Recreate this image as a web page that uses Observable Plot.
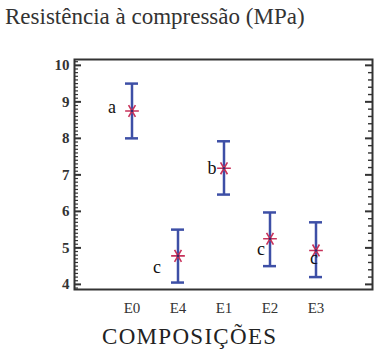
<!DOCTYPE html>
<html>
<head>
<meta charset="utf-8">
<script src="https://cdn.jsdelivr.net/npm/d3@7"></script>
<script src="https://cdn.jsdelivr.net/npm/@observablehq/plot@0.6"></script>
<style>
  html, body { margin: 0; padding: 0; background: #fff; }
  #wrap { width: 379px; height: 355px; position: relative; overflow: hidden; }
  #title { height: 40px; box-sizing: border-box; padding: 4px 0 0 5px; font: 23px "Liberation Serif", serif; letter-spacing: 0px; color: #333; white-space: nowrap; }
  #xlabel { height: 36px; box-sizing: border-box; padding: 5px 0 0 102px; font: 23px "Liberation Serif", serif; color: #222; letter-spacing: 1.3px; white-space: nowrap; }
  svg { display: block; }
</style>
</head>
<body>
<div id="wrap">
  <div id="title">Resistência à compressão (MPa)</div>
  <div id="chart"></div>
  <div id="xlabel">COMPOSIÇÕES</div>
</div>
<script>
const categories = ["E0", "E4", "E1", "E2", "E3"];
const means = [8.75, 4.78, 7.18, 5.25, 4.93];
const lows = [8.0, 4.05, 6.46, 4.5, 4.2];
const highs = [9.5, 5.5, 7.92, 5.97, 5.7];
const groups = ["a", "c", "b", "c", "c"];
const yTicks = [4, 5, 6, 7, 8, 9, 10];

const data = categories.map((c, i) => ({cat: c, mean: means[i], low: lows[i], high: highs[i], group: groups[i]}));

const W = 379, H = 279;
const mL = 74, mR = 7, mT = 19, mB = 30;
const fw = W - mL - mR;

const minorLeft = d3.range(39, 102).map(v => v / 10).filter(v => !yTicks.includes(v));
const minorRight = d3.range(20, 51).map(v => v / 5).filter(v => !yTicks.includes(v));

const barColor = "#3d4fa6";
const starColor = "#c8325a";

// per-letter label offsets (annotation placement)
const letterOffsets = [[-20, -4], [-21, 11], [-12, 0], [-9, 10], [-2, 8]];

const letterMarks = data.map((d, i) => Plot.text([d], {
  x: "cat", y: "mean", text: "group",
  dx: letterOffsets[i][0], dy: letterOffsets[i][1],
  fontSize: 18, fontFamily: "Liberation Serif", fill: "#111"
}));

const chart = Plot.plot({
  width: W, height: H,
  marginLeft: mL, marginRight: mR, marginTop: mT, marginBottom: mB,
  style: {fontFamily: "Liberation Serif", background: "#fff"},
  x: {type: "band", domain: categories, paddingInner: 0.72, paddingOuter: 1.05, label: null},
  y: {domain: [3.86, 10.16], label: null},
  marks: [
    Plot.axisX({tickSize: 0, tickPadding: 13, fontSize: 15, fill: "#333", label: null}),
    Plot.axisY(yTicks, {tickSize: 0, tickPadding: 5, fontSize: 15, fontWeight: "bold", fill: "#333", label: null}),
    Plot.tickY(yTicks, {y: d => d, insetRight: fw - 7, stroke: "#333", strokeWidth: 2}),
    Plot.tickY(minorLeft, {y: d => d, insetRight: fw - 4, stroke: "#333", strokeWidth: 1.2}),
    Plot.tickY(yTicks, {y: d => d, insetLeft: fw - 7, stroke: "#333", strokeWidth: 2}),
    Plot.tickY(minorRight, {y: d => d, insetLeft: fw - 4, stroke: "#333", strokeWidth: 1.4}),
    Plot.ruleX(data, {x: "cat", y1: "low", y2: "high", stroke: barColor, strokeWidth: 2.5}),
    Plot.tickY(data, {x: "cat", y: "low", stroke: barColor, strokeWidth: 2.5}),
    Plot.tickY(data, {x: "cat", y: "high", stroke: barColor, strokeWidth: 2.5}),
    Plot.dot(data, {x: "cat", y: "mean", symbol: "asterisk", r: 6.5, rotate: 90, stroke: starColor, strokeWidth: 1.6}),
    Plot.dot(data, {x: "cat", y: "mean", r: 1.3, fill: "#3a2a6a", stroke: "none"}),
    ...letterMarks,
    Plot.frame({stroke: "#333", strokeWidth: 2})
  ]
});
document.getElementById("chart").appendChild(chart);
</script>
</body>
</html>
